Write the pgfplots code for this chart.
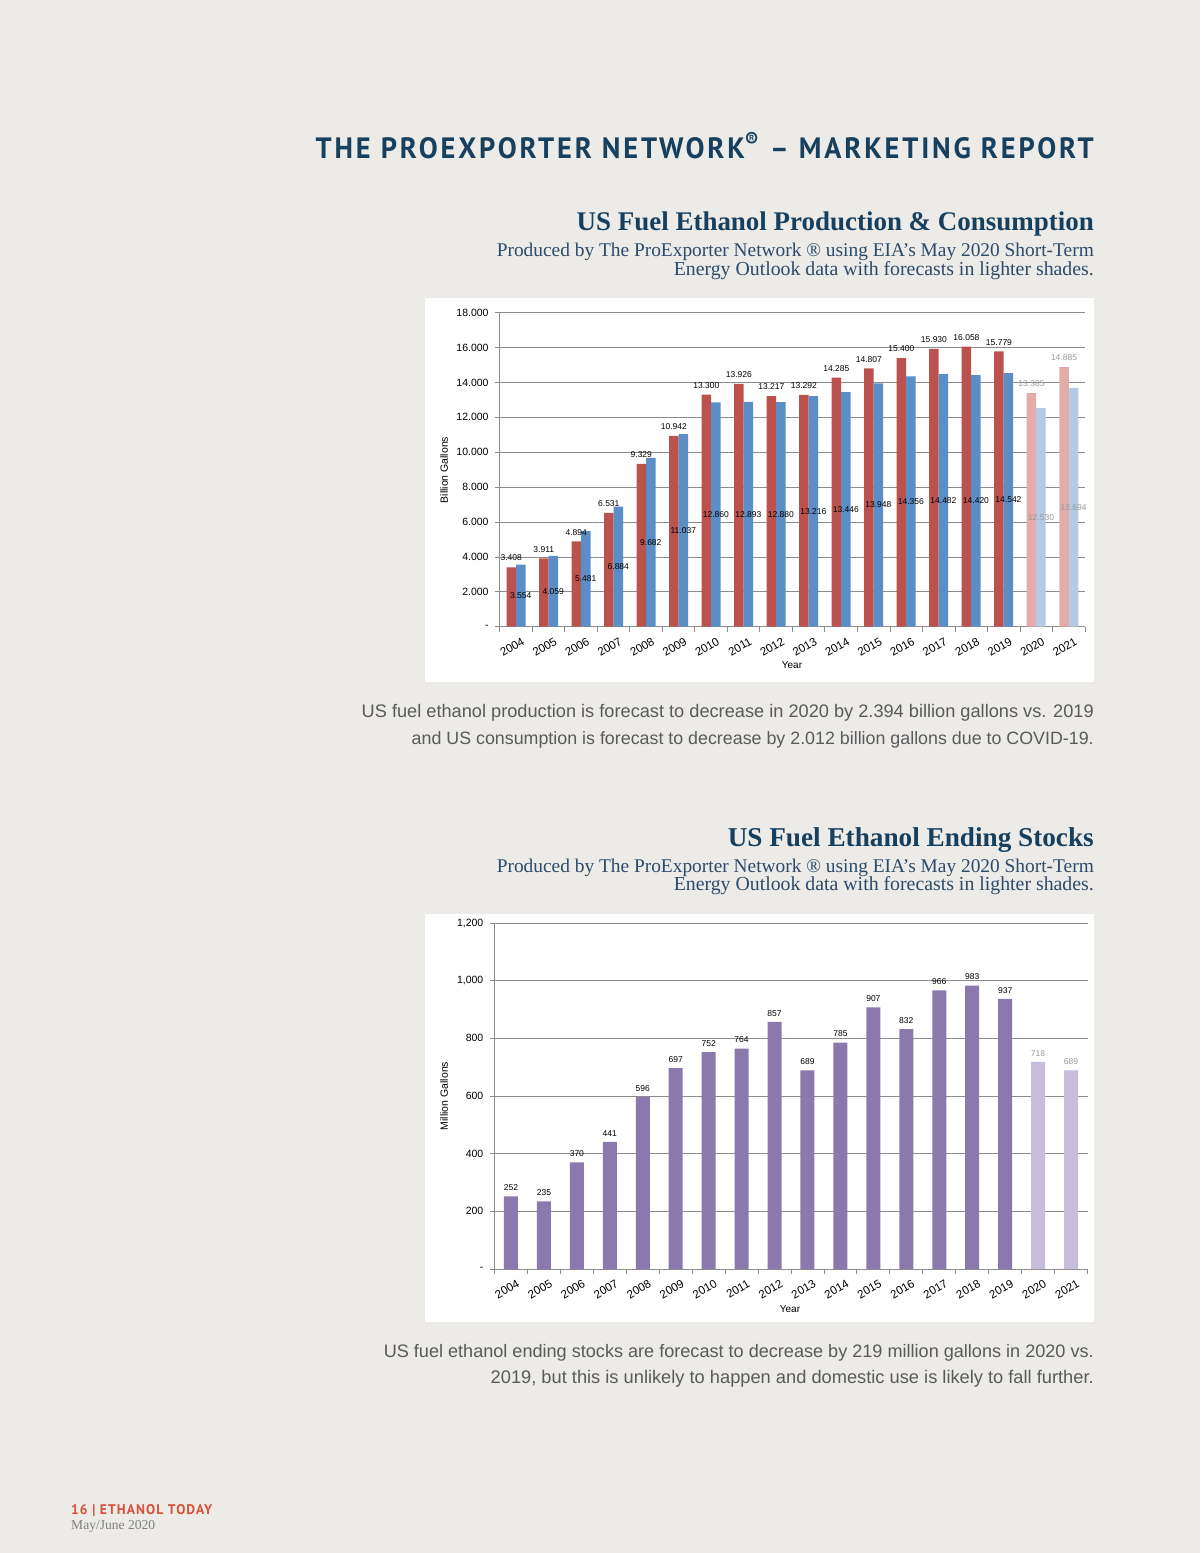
\documentclass[border=0pt]{standalone}
\usepackage{pgfplots}
\pgfplotsset{compat=1.18}
\usepackage{pgfplotstable}
\usepackage{graphicx}
\usepackage{fontspec}
\setmainfont{Liberation Serif}
\setsansfont{Liberation Sans}
\newfontfamily\hdrfont{PT Sans}

\definecolor{pagebg}{HTML}{ECEBE7}
\definecolor{navy}{HTML}{17405F}
\definecolor{navysub}{HTML}{2C4B6A}
\definecolor{capgray}{HTML}{5A5A5C}
\definecolor{footred}{HTML}{D6503A}
\definecolor{cred}{HTML}{BC524E}
\definecolor{credl}{HTML}{E3ABA9}
\definecolor{cblue}{HTML}{5B8EC6}
\definecolor{cbluel}{HTML}{B4CBE6}
\definecolor{cpurp}{HTML}{8B78AD}
\definecolor{cpurpl}{HTML}{C7BCDB}
\definecolor{axgray}{HTML}{8C8C8C}
\definecolor{fcgray}{HTML}{9A9A9A}

% production / consumption, billion gallons
\pgfplotstableread{
x prod cons
0 3.408 3.554
1 3.911 4.059
2 4.894 5.481
3 6.531 6.884
4 9.329 9.682
5 10.942 11.037
6 13.300 12.860
7 13.926 12.893
8 13.217 12.880
9 13.292 13.216
10 14.285 13.446
11 14.807 13.948
12 15.400 14.356
13 15.930 14.482
14 16.058 14.420
15 15.779 14.542
}\histtab
\pgfplotstableread{
x prod cons
16 13.385 12.530
17 14.885 13.694
}\fcsttab

% ending stocks, million gallons
\pgfplotstableread{
x stock
0 252
1 235
2 370
3 441
4 596
5 697
6 752
7 764
8 857
9 689
10 785
11 907
12 832
13 966
14 983
15 937
}\stockhist
\pgfplotstableread{
x stock
16 718
17 689
}\stockfcst

\tikzset{lbl/.style={font=\sffamily\fontsize{8.5}{8.5}\selectfont, inner sep=0pt}}

\pgfplotsset{
  chartbase/.style={
    scale only axis, ybar,
    xmin=-0.5, xmax=17.5,
    enlarge x limits=false, enlarge y limits=false,
    xtick={-0.5,0.5,...,17.5},
    x tick label as interval,
    xticklabels={2004,2005,2006,2007,2008,2009,2010,2011,2012,2013,2014,2015,2016,2017,2018,2019,2020,2021},
    xticklabel style={rotate=30, anchor=north east, inner sep=1pt, xshift=3pt, yshift=-6pt,
      font=\sffamily\fontsize{11.5}{11.5}\selectfont},
    yticklabel style={font=\sffamily\fontsize{10.5}{10.5}\selectfont, inner sep=1pt, xshift=-5pt},
    axis x line*=bottom, axis y line*=left,
    axis line style={draw=axgray, line width=0.8pt, -},
    ymajorgrids, grid style={axgray, line width=0.8pt},
    tick align=outside, major tick length=5pt,
    tick style={axgray, line width=0.8pt},
    point meta=explicit symbolic,
  },
}

\begin{document}
\begin{tikzpicture}[x=1pt,y=-1pt]
\fill[pagebg] (0,0) rectangle (1200,1553);
\fill[white] (425,298) rectangle (1094,682);
\fill[white] (425,914) rectangle (1094,1322);

% header texts
\node[anchor=base east, inner sep=0, text=navy] at (1094,158)
  {\resizebox{778pt}{21pt}{\hdrfont\bfseries\addfontfeature{LetterSpace=10}THE PROEXPORTER NETWORK\smash{\textsuperscript{®}} – MARKETING REPORT}};

\node[anchor=base east, inner sep=0, text=navy] at (1094,230)
  {\resizebox{517pt}{!}{\bfseries US Fuel Ethanol Production \& Consumption}};
\node[anchor=base east, inner sep=0, text=navysub] at (1094,256)
  {\resizebox{597pt}{!}{Produced by The ProExporter Network ® using EIA’s May 2020 Short-Term}};
\node[anchor=base east, inner sep=0, text=navysub] at (1094,275)
  {\resizebox{420pt}{!}{Energy Outlook data with forecasts in lighter shades.}};

% chart 1
\begin{axis}[chartbase,
  at={(499.75pt,-626.7pt)}, anchor=south west,
  width=585.25pt, height=314pt,
  ymin=0, ymax=18, ytick={0,2,...,18},
  yticklabels={-,2.000,4.000,6.000,8.000,10.000,12.000,14.000,16.000,18.000},
  bar width=9.5pt]
\addplot[fill=cred, draw=none, bar shift=-4.75pt, nodes near coords,
  every node near coord/.append style={lbl, text=black, anchor=south, yshift=6pt}]
  table[x=x, y=prod, meta=prod] {\histtab};
\addplot[fill=cblue, draw=none, bar shift=4.75pt, nodes near coords,
  every node near coord/.append style={lbl, text=black, anchor=center, yshift=-8.722pt*\pgfplotspointmeta}]
  table[x=x, y=cons, meta=cons] {\histtab};
\addplot[fill=credl, draw=none, bar shift=-4.75pt, nodes near coords,
  every node near coord/.append style={lbl, text=fcgray, anchor=south, yshift=6pt}]
  table[x=x, y=prod, meta=prod] {\fcsttab};
\addplot[fill=cbluel, draw=none, bar shift=4.75pt, nodes near coords,
  every node near coord/.append style={lbl, text=fcgray, anchor=center, yshift=-8.722pt*\pgfplotspointmeta}]
  table[x=x, y=cons, meta=cons] {\fcsttab};
\end{axis}
\node[font=\sffamily\fontsize{10}{10}\selectfont] at (792,665) {Year};
\node[font=\sffamily\fontsize{10.5}{10.5}\selectfont, rotate=90] at (444,470) {Billion Gallons};

\node[anchor=base east, inner sep=0, text=capgray] at (1094,717)
  {\resizebox{732pt}{!}{\sffamily US fuel ethanol production is forecast to decrease in 2020 by 2.394 billion gallons vs. 2019}};
\node[anchor=base east, inner sep=0, text=capgray] at (1094,744)
  {\resizebox{682pt}{!}{\sffamily and US consumption is forecast to decrease by 2.012 billion gallons due to COVID-19.}};

% second block
\node[anchor=base east, inner sep=0, text=navy] at (1094,846)
  {\resizebox{366pt}{!}{\bfseries US Fuel Ethanol Ending Stocks}};
\node[anchor=base east, inner sep=0, text=navysub] at (1094,872)
  {\resizebox{597pt}{!}{Produced by The ProExporter Network ® using EIA’s May 2020 Short-Term}};
\node[anchor=base east, inner sep=0, text=navysub] at (1094,890)
  {\resizebox{420pt}{!}{Energy Outlook data with forecasts in lighter shades.}};

\begin{axis}[chartbase,
  at={(494.5pt,-1269pt)}, anchor=south west,
  width=593pt, height=346pt,
  ymin=0, ymax=1200, ytick={0,200,...,1200},
  yticklabels={-,200,400,600,800,{1,000},{1,200}},
  bar width=14pt]
\addplot[fill=cpurp, draw=none, bar shift=0pt, nodes near coords,
  every node near coord/.append style={lbl, text=black, anchor=south, yshift=5.5pt}]
  table[x=x, y=stock, meta=stock] {\stockhist};
\addplot[fill=cpurpl, draw=none, bar shift=0pt, nodes near coords,
  every node near coord/.append style={lbl, text=fcgray, anchor=south, yshift=5.5pt}]
  table[x=x, y=stock, meta=stock] {\stockfcst};
\end{axis}
\node[font=\sffamily\fontsize{10}{10}\selectfont] at (790,1309) {Year};
\node[font=\sffamily\fontsize{10.5}{10.5}\selectfont, rotate=90] at (444,1096) {Million Gallons};

\node[anchor=base east, inner sep=0, text=capgray] at (1094,1357)
  {\resizebox{710pt}{!}{\sffamily US fuel ethanol ending stocks are forecast to decrease by 219 million gallons in 2020 vs.}};
\node[anchor=base east, inner sep=0, text=capgray] at (1094,1383)
  {\resizebox{603pt}{!}{\sffamily 2019, but this is unlikely to happen and domestic use is likely to fall further.}};

% footer
\node[anchor=base west, inner sep=0, text=footred] at (71,1514)
  {\resizebox{141pt}{10pt}{\hdrfont\bfseries\addfontfeature{LetterSpace=8}16 | ETHANOL TODAY}};
\node[anchor=base west, inner sep=0, text=gray] at (71,1529)
  {\resizebox{84pt}{!}{May/June 2020}};

\pgfresetboundingbox
\path[use as bounding box] (0,0) rectangle (1200,1553);
\end{tikzpicture}
\end{document}
